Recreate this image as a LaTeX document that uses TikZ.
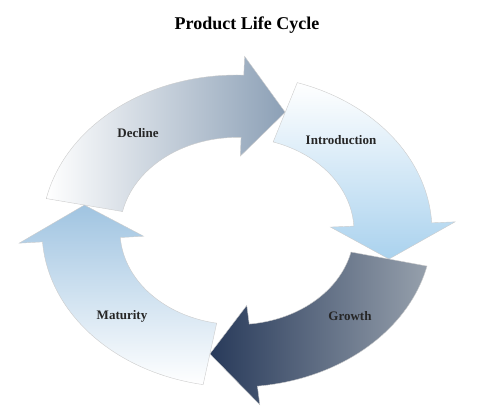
\documentclass[tikz,border=0pt]{standalone}
\usepackage{fontspec}
\setmainfont{Liberation Serif}
\begin{document}
\begin{tikzpicture}[x=1pt,y=1pt,
  lbl/.style={font=\bfseries\fontsize{13}{15}\selectfont, text=black!85},
  seg/.style={draw=black!20, line width=0.4pt}]
\useasboundingbox (0,0) rectangle (485,411);
\def\cx{237}\def\cy{180}\def\rx{195}\def\ry{156}
\def\ri{0.6}\def\hw{16}
\newcommand\cycseg[3]{%
  \pgfmathsetmacro\bb{#2+\hw}%
  \path[seg,#3]
   plot[domain=#1:\bb,samples=40] ({\cx+\rx*cos(\x)},{\cy+\ry*sin(\x)})
   -- ({\cx+\rx*1.12*cos(\bb)},{\cy+\ry*1.12*sin(\bb)})
   -- ({\cx+\rx*0.8*cos(#2)},{\cy+\ry*0.8*sin(#2)})
   -- ({\cx+\rx*0.48*cos(\bb)},{\cy+\ry*0.48*sin(\bb)})
   -- plot[domain=\bb:#1,samples=40] ({\cx+\rx*\ri*cos(\x)},{\cy+\ry*\ri*sin(\x)})
   -- cycle;}
\cycseg{168}{72}{left color=white, right color={rgb,255:red,140;green,160;blue,182}}
\cycseg{72}{-13}{top color=white, bottom color={rgb,255:red,170;green,210;blue,238}}
\cycseg{-13}{-100}{left color={rgb,255:red,40;green,58;blue,90}, right color={rgb,255:red,150;green,160;blue,172}}
\cycseg{-100}{-192}{top color={rgb,255:red,160;green,196;blue,225}, bottom color=white}
\node[font=\bfseries\fontsize{18}{20}\selectfont] (title) at (247,386) {Product Life Cycle};
\node[lbl] (d) at (138,278) {Decline};
\node[lbl] (i) at (341,271) {Introduction};
\node[lbl] (g) at (350,95) {Growth};
\node[lbl] (m) at (122,95) {Maturity};
\end{tikzpicture}
\end{document}
